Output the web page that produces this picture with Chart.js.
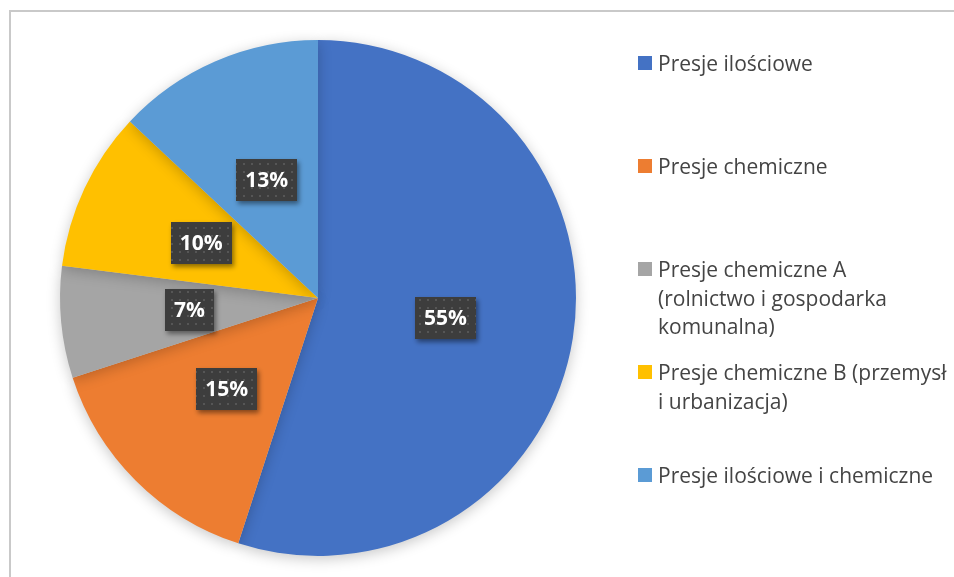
<!DOCTYPE html>
<html>
<head>
<meta charset="utf-8">
<script src="https://cdn.jsdelivr.net/npm/chart.js@4"></script>
<style>
  html, body { margin: 0; padding: 0; background: #fff; overflow: hidden; }
  #wrap { position: relative; width: 954px; height: 577px; overflow: hidden; }
  #frame { position: absolute; left: 9px; top: 10px; width: 1000px; height: 700px; border: 2px solid #c9c9c9; }
  #myChart { position: absolute; left: 0; top: 0; }
  #legend { position: absolute; left: 638px; top: 0; font-family: "Open Sans", sans-serif; font-size: 21px; color: #444444; }
  .item { position: absolute; left: 0; white-space: nowrap; }
  .box { position: absolute; left: 0; width: 14px; height: 14px; }
  .txt { position: absolute; left: 20px; top: 0; line-height: 28.5px; }
</style>
</head>
<body>
<div id="wrap">
  <div id="frame"></div>
  <canvas id="myChart" width="954" height="577"></canvas>
  <div id="legend"></div>
</div>
<script>
"use strict";
// Data
const categories = [
    ["Presje ilościowe"],
    ["Presje chemiczne"],
    ["Presje chemiczne A", "(rolnictwo i gospodarka", "komunalna)"],
    ["Presje chemiczne B (przemysł", "i urbanizacja)"],
    ["Presje ilościowe i chemiczne"],
];
const shares = [55, 15, 7, 10, 13];
const sliceColors = ["#4472C4", "#ED7D31", "#A5A5A5", "#FFC000", "#5B9BD5"];

// dotted dark fill for the value labels
function makePattern(ctx) {
    const c = document.createElement("canvas");
    c.width = 8;
    c.height = 8;
    const p = c.getContext("2d");
    p.fillStyle = "#3d3d3d";
    p.fillRect(0, 0, 8, 8);
    p.fillStyle = "#565656";
    p.fillRect(3, 3, 2, 2);
    return ctx.createPattern(c, "repeat");
}

const pieShadow = {
    id: "pieShadow",
    beforeDatasetsDraw(chart) {
        const ctx = chart.ctx;
        ctx.save();
        ctx.shadowColor = "rgba(0,0,0,0.22)";
        ctx.shadowBlur = 14;
        ctx.shadowOffsetY = 3;
    },
    afterDatasetsDraw(chart) {
        chart.ctx.restore();
    },
};

const valueLabels = {
    id: "valueLabels",
    afterDraw(chart) {
        const ctx = chart.ctx;
        const meta = chart.getDatasetMeta(0);
        const pattern = makePattern(ctx);
        ctx.save();
        ctx.font = "bold 21px 'Open Sans', sans-serif";
        ctx.textAlign = "center";
        ctx.textBaseline = "middle";
        meta.data.forEach((arc, i) => {
            const pos = arc.tooltipPosition();
            const text = shares[i] + "%";
            const w = Math.round(ctx.measureText(text).width + 18);
            const h = 42;
            const x = Math.round(pos.x - w / 2);
            const y = Math.round(pos.y - h / 2);
            ctx.save();
            ctx.shadowColor = "rgba(0,0,0,0.45)";
            ctx.shadowBlur = 5;
            ctx.shadowOffsetX = 2;
            ctx.shadowOffsetY = 3;
            ctx.fillStyle = pattern;
            ctx.fillRect(x, y, w, h);
            ctx.restore();
            ctx.fillStyle = "#ffffff";
            ctx.fillText(text, pos.x, pos.y + 1);
        });
        ctx.restore();
    },
};

// Config
const config = {
    type: "pie",
    data: {
        labels: categories,
        datasets: [
            {
                data: shares,
                backgroundColor: sliceColors,
                borderWidth: 0,
            },
        ],
    },
    options: {
        responsive: false,
        animation: false,
        devicePixelRatio: 1,
        layout: { padding: { left: 60, right: 378, top: 40, bottom: 21 } },
        plugins: {
            legend: { display: false },
            tooltip: { enabled: false },
        },
    },
    plugins: [pieShadow, valueLabels],
};

const myChart = new Chart(document.getElementById("myChart"), config);

// legend on the right, one entry every 103px
const legend = document.getElementById("legend");
categories.forEach((lines, i) => {
    const item = document.createElement("div");
    item.className = "item";
    item.style.top = (63 - 14 + i * 103) + "px";
    const box = document.createElement("div");
    box.className = "box";
    box.style.top = "7px";
    box.style.background = sliceColors[i];
    const txt = document.createElement("div");
    txt.className = "txt";
    txt.innerHTML = lines.join("<br>");
    item.appendChild(box);
    item.appendChild(txt);
    legend.appendChild(item);
});
</script>
</body>
</html>
